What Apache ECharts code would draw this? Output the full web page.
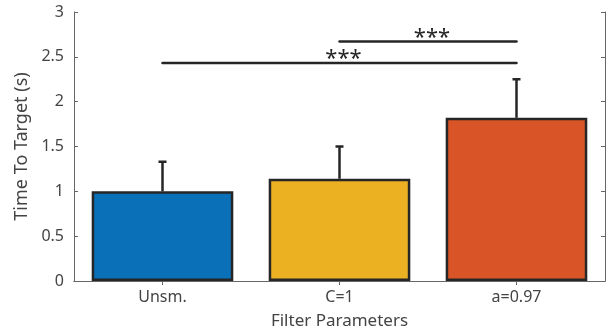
<!DOCTYPE html>
<html>
<head>
<meta charset="utf-8">
<script src="https://cdn.jsdelivr.net/npm/echarts@6/dist/echarts.min.js"></script>
<style>html,body{margin:0;padding:0;background:#fff;}#c{width:613px;height:335px;}</style>
</head>
<body>
<div id="c"></div>
<script>
const categories = ['Unsm.', 'C=1', 'a=0.97'];
const means = [1.0, 1.14, 1.82];
const errors = [0.33, 0.36, 0.43];
const barColors = ['#0a71b9', '#ebb123', '#d95427'];
const sigFrom = [0, 1];
const sigTo = [2, 2];
const sigLevel = [2.43, 2.67];
const sigLabels = ['***', '***'];
const yTicks = [0, 0.5, 1, 1.5, 2, 2.5, 3];

const FONT = 'Noto Sans';
const chart = echarts.init(document.getElementById('c'), null, {renderer: 'canvas'});
const axisCol = '#666';
const textCol = '#444';

const errData = means.map((m, i) => [i, m, m + errors[i]]);
const sigData = sigFrom.map((f, i) => [f, sigTo[i], sigLevel[i], sigLabels[i]]);

chart.setOption({
  animation: false,
  grid: {left: 74, right: 8, top: 12, bottom: 54},
  xAxis: [{
    type: 'category', data: categories, position: 'bottom',
    axisLine: {lineStyle: {color: axisCol, width: 1}},
    axisTick: {inside: true, length: 4, alignWithLabel: true, lineStyle: {color: axisCol}},
    axisLabel: {color: textCol, fontFamily: FONT, fontSize: 16, margin: 8},
    name: 'Filter Parameters', nameLocation: 'middle', nameGap: 32,
    nameTextStyle: {color: textCol, fontFamily: FONT, fontSize: 17}
  }, {
    type: 'category', data: categories, position: 'top',
    axisLine: {show: true, lineStyle: {color: axisCol, width: 1}},
    axisTick: {show: true, inside: true, length: 4, alignWithLabel: true, lineStyle: {color: axisCol}},
    axisLabel: {show: false}
  }],
  yAxis: [{
    type: 'value', min: 0, max: 3, interval: 0.5,
    axisLine: {show: true, lineStyle: {color: axisCol, width: 1}},
    axisTick: {show: true, inside: true, length: 4, lineStyle: {color: axisCol}},
    splitLine: {show: false},
    axisLabel: {color: textCol, fontFamily: FONT, fontSize: 16, margin: 10,
      formatter: v => String(v)},
    name: 'Time To Target (s)', nameLocation: 'middle', nameGap: 38,
    nameTextStyle: {color: textCol, fontFamily: FONT, fontSize: 18}
  }, {
    type: 'value', min: 0, max: 3, interval: 0.5, position: 'right',
    axisLine: {show: true, lineStyle: {color: axisCol, width: 1}},
    axisTick: {show: true, inside: true, length: 4, lineStyle: {color: axisCol}},
    splitLine: {show: false}, axisLabel: {show: false}
  }],
  series: [{
    type: 'bar', barWidth: '80%', z: 2,
    data: means.map((m, i) => ({value: m, itemStyle: {color: barColors[i]}})),
    itemStyle: {borderColor: '#262626', borderWidth: 2.5}
  }, {
    type: 'custom', z: 3, data: errData,
    renderItem: (params, api) => {
      const x = api.value(0);
      const p0 = api.coord([x, api.value(1)]);
      const p1 = api.coord([x, api.value(2)]);
      const cap = 4;
      const st = {stroke: '#262626', lineWidth: 2.5};
      return {type: 'group', children: [
        {type: 'line', shape: {x1: p0[0], y1: p0[1], x2: p1[0], y2: p1[1]}, style: st},
        {type: 'line', shape: {x1: p1[0] - cap, y1: p1[1], x2: p1[0] + cap, y2: p1[1]}, style: st}
      ]};
    }
  }, {
    type: 'custom', z: 4, data: sigData,
    renderItem: (params, api) => {
      const a = api.coord([api.value(0), api.value(2)]);
      const b = api.coord([api.value(1), api.value(2)]);
      const label = sigData[params.dataIndex][3];
      return {type: 'group', children: [
        {type: 'line', shape: {x1: a[0], y1: a[1], x2: b[0], y2: b[1]},
          style: {stroke: '#262626', lineWidth: 2.5, lineCap: 'round'}},
        {type: 'text', x: (a[0] + b[0]) / 2 + 4, y: a[1] + 7,
          style: {text: label, fill: '#262626', font: '22px "' + FONT + '"',
            textAlign: 'center', textVerticalAlign: 'bottom'}}
      ]};
    }
  }]
});
</script>
</body>
</html>
